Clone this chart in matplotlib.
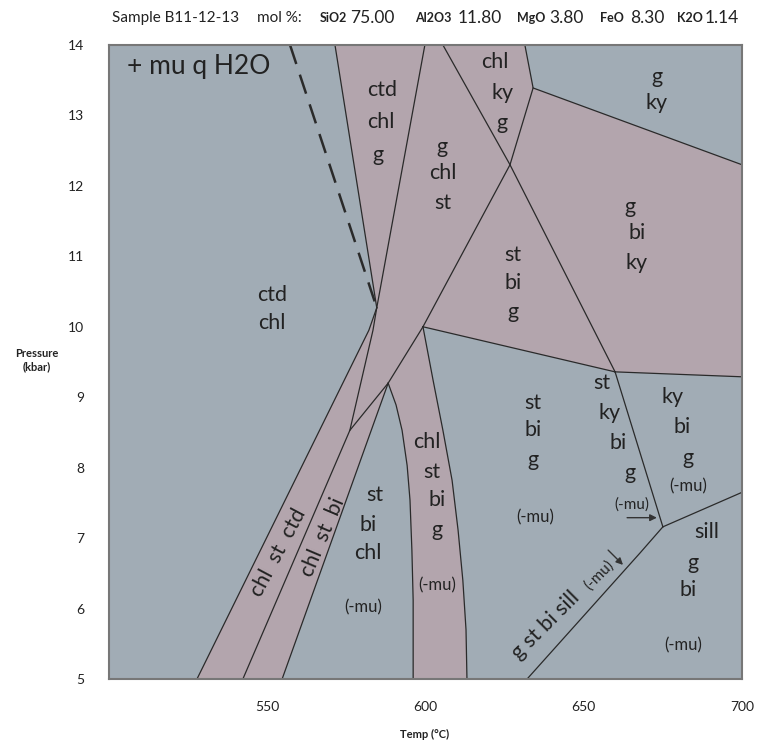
import numpy as np
import matplotlib.pyplot as plt
from matplotlib.patches import Polygon

plt.rcParams['font.family'] = ['Lato', 'DejaVu Sans']

# invariant points (Temp degC, Pressure kbar)
A = (584.6, 10.27)
B = (599.2, 10.00)
C = (588.2, 9.20)
D = (626.7, 12.30)
E = (576.1, 8.53)
F = (659.9, 9.36)
G = (675.0, 7.16)
H = (634.0, 13.39)

# reaction lines
dashed_line = [(557.2, 14.0), A]
g_in_line = [(571.4, 14.0), A]
wedge_right = [(599.8, 14.0), A]
st_in_line = [A, (582.1, 9.95), (527.8, 5.0)]
mid_line = [A, (583.4, 9.95), E, (542.3, 5.0)]
c_line = [C, (554.7, 5.0)]
bce_line = [B, C, E]
band_left = [C, (590.7, 8.89), (592.6, 8.53), (594.2, 8.03), (595.1, 7.54),
             (595.7, 6.83), (596.1, 6.12), (596.1, 5.0)]
band_right = [B, (602.4, 9.24), (605.5, 8.53), (608.4, 7.82), (610.3, 7.11),
              (611.8, 6.40), (612.8, 5.70), (613.1, 5.0)]
bd_line = [B, D]
dh_line = [D, H, (631.4, 14.0)]
df_line = [(605.5, 14.0), D, F]
h_right = [H, (700.0, 12.30)]
bf_line = [B, F]
f_right = [F, (700.0, 9.29)]
fg_line = [F, G]
g_right = [G, (700.0, 7.65)]
g_low = [G, (667.8, 6.79), (632.1, 5.0)]

solid_lines = [g_in_line, wedge_right, st_in_line, mid_line, c_line, bce_line,
               band_left, band_right, bd_line, dh_line, df_line, h_right,
               bf_line, f_right, fg_line, g_right, g_low]

# field labels: (text, T, P, size)
labels = [
    ('ctd', 586.3, 13.36, 15.5), ('chl', 585.9, 12.91, 15.5), ('g', 585.0, 12.44, 15.5),
    ('ctd', 551.5, 10.45, 15.5), ('chl', 551.5, 10.05, 15.5),
    ('chl', 622.0, 13.76, 15.5), ('ky', 624.2, 13.32, 15.5), ('g', 624.2, 12.89, 15.5),
    ('g', 673.1, 13.55, 15.5), ('ky', 673.1, 13.18, 15.5),
    ('g', 605.2, 12.55, 15.5), ('chl', 605.5, 12.18, 15.5), ('st', 605.5, 11.76, 15.5),
    ('g', 664.6, 11.70, 15.5), ('bi', 666.8, 11.33, 15.5), ('ky', 666.8, 10.91, 15.5),
    ('st', 627.6, 11.02, 15.5), ('bi', 627.6, 10.62, 15.5), ('g', 627.6, 10.21, 15.5),
    ('st', 584.0, 7.61, 15.5), ('bi', 581.8, 7.19, 15.5), ('chl', 581.8, 6.79, 15.5),
    ('(-mu)', 580.3, 6.01, 12),
    ('chl', 600.5, 8.36, 15.5), ('st', 602.1, 7.94, 15.5), ('bi', 603.6, 7.54, 15.5),
    ('g', 603.6, 7.11, 15.5), ('(-mu)', 603.6, 6.33, 12),
    ('st', 634.0, 8.92, 15.5), ('bi', 634.0, 8.53, 15.5), ('g', 634.0, 8.11, 15.5),
    ('(-mu)', 634.6, 7.30, 12),
    ('st', 655.8, 9.20, 15.5), ('ky', 658.3, 8.78, 15.5), ('bi', 660.8, 8.35, 15.5),
    ('g', 664.6, 7.92, 15.5), ('(-mu)', 665.2, 7.47, 11),
    ('ky', 678.2, 9.00, 15.5), ('bi', 681.0, 8.58, 15.5), ('g', 682.9, 8.14, 15.5),
    ('(-mu)', 682.9, 7.73, 12),
    ('sill', 688.9, 7.09, 15.5), ('g', 684.5, 6.65, 15.5), ('bi', 682.9, 6.26, 15.5),
    ('(-mu)', 681.4, 5.48, 12),
]

# labels along narrow fields: (text, T, P, size, angle)
rot_labels = [
    ('chl  st  ctd', 553.4, 6.79, 15.5, 62),
    ('chl  st  bi', 567.6, 7.02, 15.5, 67),
    ('g st bi sill', 638.1, 5.77, 15.5, 45),
    ('(-mu)', 655.0, 6.48, 11, 45),
]

# arrows: (T start, P start, T end, P end)
arrows = [(663.7, 7.29, 673.1, 7.29), (657.7, 6.83, 662.4, 6.62)]

# header
header = [('Sample B11-12-13', 112, 11, 'normal'), ('mol %:', 257, 11, 'normal'),
          ('SiO2', 320, 9, 'bold'), ('75.00', 350, 12.5, 'normal'),
          ('Al2O3', 415, 9, 'bold'), ('11.80', 458, 12.5, 'normal'),
          ('MgO', 517, 9, 'bold'), ('3.80', 549, 12.5, 'normal'),
          ('FeO', 600, 9, 'bold'), ('8.30', 630, 12.5, 'normal'),
          ('K2O', 677, 9, 'bold'), ('1.14', 705, 12.5, 'normal')]

blue = '#a1acb5'
pink = '#b3a5ad'
line_c = '#2a2a2a'
text_c = '#222222'

fig = plt.figure(figsize=(7.61, 7.47), dpi=100)
ax = fig.add_axes([109 / 761, 68 / 747, 633 / 761, 634 / 747])
ax.set_facecolor(blue)
ax.set_xlim(500, 700)
ax.set_ylim(5, 14)

# pink fields as one outline made from the boundary lines
outline = (g_in_line + st_in_line[1:] + c_line[::-1] + band_left[1:]
           + band_right[::-1] + bf_line[1:] + f_right[1:] + h_right[::-1]
           + dh_line[2:])
ax.add_patch(Polygon(np.array(outline), closed=True, facecolor=pink,
                     edgecolor='none', zorder=1))

for ln in solid_lines:
    arr = np.array(ln)
    ax.plot(arr[:, 0], arr[:, 1], color=line_c, lw=0.9, zorder=2)

arr = np.array(dashed_line)
ax.plot(arr[:, 0], arr[:, 1], color=line_c, lw=1.8, dashes=(8, 4.5), zorder=2)

for txt, t, p, s in labels:
    ax.text(t, p, txt, fontsize=s, color=text_c, ha='center', va='center', zorder=3)

for txt, t, p, s, ang in rot_labels:
    ax.text(t, p, txt, fontsize=s, color=text_c, ha='center', va='center',
            rotation=ang, rotation_mode='anchor', zorder=3)

for t0, p0, t1, p1 in arrows:
    ax.annotate('', xy=(t1, p1), xytext=(t0, p0),
                arrowprops=dict(arrowstyle='-|>', color='#333333', lw=1.0,
                                mutation_scale=10, shrinkA=0, shrinkB=0))

ax.text(505.7, 13.69, '+ mu q H2O', fontsize=19, color=text_c, ha='left', va='center')

ax.set_xticks([550, 600, 650, 700])
ax.set_yticks(range(5, 15))
ax.tick_params(length=0, labelsize=10, colors='#222222')
ax.tick_params(axis='x', pad=16)
ax.tick_params(axis='y', pad=18)
for sp in ax.spines.values():
    sp.set_color('#777777')
    sp.set_linewidth(1.5)

fig.text(37 / 761, 1 - 360 / 747, 'Pressure\n(kbar)', fontsize=8, fontweight='bold',
         ha='center', va='center', color='#222222')
fig.text(425 / 761, 1 - 734 / 747, 'Temp (°C)', fontsize=8, fontweight='bold',
         ha='center', va='center', color='#222222')

for txt, x, s, w in header:
    fig.text(x / 761, 1 - 18 / 747, txt, fontsize=s, fontweight=w, ha='left',
             va='center', color='#222222')

fig.savefig('out.png', dpi=100)
